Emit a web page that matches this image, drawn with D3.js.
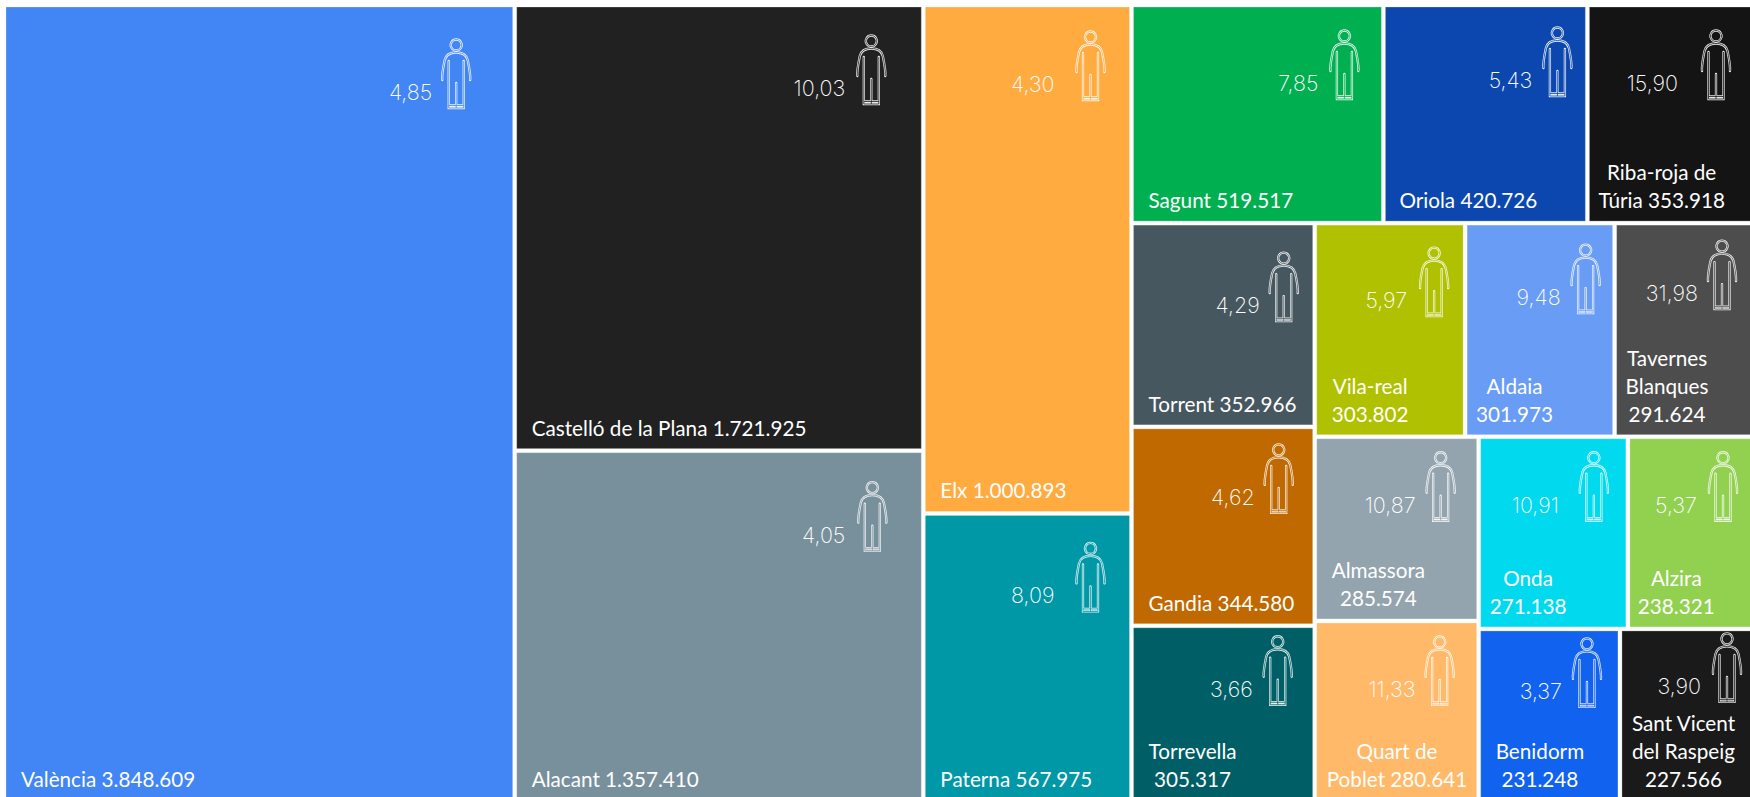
<!DOCTYPE html>
<html>
<head>
<meta charset="utf-8">
<script src="https://cdn.jsdelivr.net/npm/d3@7"></script>
<style>
  html, body { margin: 0; padding: 0; background: #fff; overflow: hidden; }
  svg { display: block; }
  .tile-label { font-family: Lato, "Open Sans", sans-serif; font-size: 20.7px; fill: #fff; }
  .tile-ratio { font-family: Inter, "Open Sans", sans-serif; font-weight: 200; font-size: 21.5px; fill: #fff; }
</style>
</head>
<body>
<div id="chart"></div>
<script>
const municipalities = ["València", "Castelló de la Plana", "Alacant", "Elx", "Paterna", "Sagunt", "Oriola",
  "Riba-roja de Túria", "Torrent", "Gandia", "Torrevella", "Vila-real", "Aldaia", "Tavernes Blanques",
  "Almassora", "Quart de Poblet", "Onda", "Alzira", "Benidorm", "Sant Vicent del Raspeig"]
const totals = [3848609, 1721925, 1357410, 1000893, 567975, 519517, 420726, 353918, 352966, 344580, 305317,
  303802, 301973, 291624, 285574, 280641, 271138, 238321, 231248, 227566]
const ratios = [4.85, 10.03, 4.05, 4.30, 8.09, 7.85, 5.43, 15.90, 4.29, 4.62, 3.66, 5.97, 9.48, 31.98, 10.87,
  11.33, 10.91, 5.37, 3.37, 3.90]

// how many tiles go in each strip of the treemap, d3's squarify groups them a bit differently
const stripSizes = [1, 2, 2, 3, 3, 3, 2, 2, 2]

// how the names break inside the tile, # is the total
const labelLines = [["València #"], ["Castelló de la Plana #"], ["Alacant #"], ["Elx #"], ["Paterna #"],
  ["Sagunt #"], ["Oriola #"], ["Riba-roja de", "Túria #"], ["Torrent #"], ["Gandia #"], ["Torrevella", "#"],
  ["Vila-real", "#"], ["Aldaia", "#"], ["Tavernes", "Blanques", "#"], ["Almassora", "#"], ["Quart de", "Poblet #"],
  ["Onda", "#"], ["Alzira", "#"], ["Benidorm", "#"], ["Sant Vicent", "del Raspeig", "#"]]

const tileColors = ["#4285F4", "#212121", "#78909C", "#FFAB40", "#0097A7", "#00B050", "#0B47AE", "#141414",
  "#47575F", "#BF6900", "#005F66", "#AFC100", "#689CF5", "#4D4D4D", "#93A4AE", "#FFB968", "#00D9EE", "#92D050",
  "#1162EE", "#1A1A1A"]

// the little person was placed by hand in each tile: gap from the tile's right and top edge
const iconGaps = [[71.5, 31], [65, 27], [64, 28], [54, 23], [54, 26], [52, 22], [43, 19], [56, 22], [44, 26],
  [49, 14], [50, 7], [44, 21], [42, 18], [50, 14], [51, 12], [52, 12], [47, 12], [49, 12], [46, 6], [45, 1]]
// and so was the ratio next to it: gap between number and person
const ratioGaps = [9, 11, 12, 21, 21, 11, 10, 23, 9, 9, 10, 12, 10, 9, 10, 9, 20, 11, 10, 11]
const labelInsets = [15, 15, 15, 15, 15, 15, 14, 9, 15, 15, 15, 15, 9, 9, 15, 10, 9, 8, 15, 10]

const width = 1750
const height = 797
const lineHeight = 28

const esLocale = d3.formatLocale({ decimal: ",", thousands: ".", grouping: [3], currency: ["", "€"] })
const fmtTotal = esLocale.format(",d")
const fmtRatio = esLocale.format(".2f")

const svg = d3.select("#chart").append("svg")
  .attr("width", width)
  .attr("height", height)
  .attr("viewBox", `0 0 ${width} ${height}`)

const root = d3.hierarchy({ children: municipalities.map((name, i) => ({ name, i, value: totals[i] })) })
  .sum(d => d.value || 0)

// same idea as squarify (strip along the short side) but with fixed strip sizes
function tileStrips(parent, x0, y0, x1, y1) {
  let remaining = parent.value
  let start = 0
  stripSizes.forEach(n => {
    const children = parent.children.slice(start, start + n)
    const strip = { children, value: d3.sum(children, c => c.value) }
    const share = strip.value / remaining
    const lastStrip = start + n === parent.children.length
    if (x1 - x0 < y1 - y0 || lastStrip) {
      const y = y0 + (y1 - y0) * share
      d3.treemapDice(strip, x0, y0, x1, y)
      y0 = y
    } else {
      const x = x0 + (x1 - x0) * share
      d3.treemapSlice(strip, x0, y0, x, y1)
      x0 = x
    }
    remaining -= strip.value
    start += n
  })
}

// the map runs a little past the right and bottom of the page, as in the original
d3.treemap()
  .tile(tileStrips)
  .paddingInner(4)
  .size([1751, 793])(root)

const tiles = svg.append("g")
  .attr("transform", "translate(6,7)")
  .selectAll("g.tile")
  .data(root.leaves())
  .join("g")
  .attr("class", "tile")
  .attr("transform", d => `translate(${d.x0},${d.y0})`)

tiles.append("rect")
  .attr("width", d => d.x1 - d.x0)
  .attr("height", d => d.y1 - d.y0)
  .attr("fill", d => tileColors[d.data.i])
  .attr("stroke", "#fff")
  .attr("stroke-opacity", 0.25)

// label block sits bottom left, lines centred on the widest one
tiles.each(function (d) {
  const g = d3.select(this)
  const lines = labelLines[d.data.i].map(l => l.replace("#", fmtTotal(d.data.value)))
  const text = g.append("text").attr("class", "tile-label").attr("text-anchor", "middle")
  const spans = text.selectAll("tspan").data(lines).join("tspan").text(l => l)
  const widest = d3.max(spans.nodes(), n => n.getComputedTextLength())
  const h = d.y1 - d.y0
  spans
    .attr("x", labelInsets[d.data.i] + widest / 2)
    .attr("y", (l, j) => h - 13 - (lines.length - 1 - j) * lineHeight)
})

// double outline: a white stroke with a thin line in the tile colour on top
const iconParts = [
  "M15 1.5a5.5 5.5 0 1 0 0.01 0Z",
  "M1 42C0.5 36 2.5 27 3.5 22C5 16 10 14.5 15 14.5C20 14.5 25 16 26.5 22C27.5 27 29.5 36 29 42",
  "M7.5 23V70H22.5V23",
  "M15 45V70",
  "M7.5 67.5H22.5"
].join("")

const icons = tiles.append("g")
  .attr("transform", d => {
    const [right, top] = iconGaps[d.data.i]
    return `translate(${d.x1 - d.x0 - right},${top})`
  })

icons.append("path")
  .attr("d", iconParts)
  .attr("fill", "none")
  .attr("stroke", "#fff")
  .attr("stroke-width", 2.3)
  .attr("stroke-linecap", "round")
  .attr("opacity", 0.9)

icons.append("path")
  .attr("d", iconParts)
  .attr("fill", "none")
  .attr("stroke", d => tileColors[d.data.i])
  .attr("stroke-width", 0.8)

icons.append("text")
  .attr("class", "tile-ratio")
  .attr("text-anchor", "end")
  .attr("x", d => -ratioGaps[d.data.i])
  .attr("y", 62)
  .text(d => fmtRatio(ratios[d.data.i]))
</script>
</body>
</html>
